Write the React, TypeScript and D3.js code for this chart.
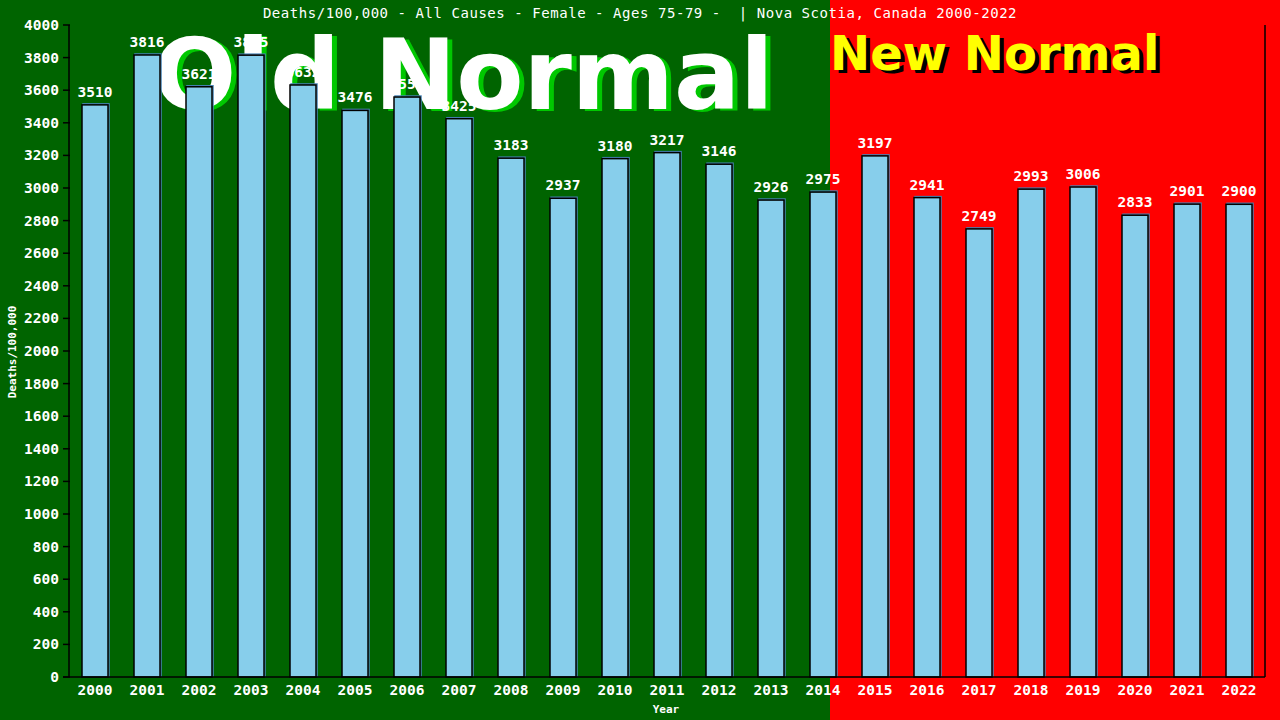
import React from 'react';
import * as d3 from 'd3';

const years = [
  '2000', '2001', '2002', '2003', '2004', '2005', '2006', '2007', '2008', '2009', '2010', '2011',
  '2012', '2013', '2014', '2015', '2016', '2017', '2018', '2019', '2020', '2021', '2022',
];
const deaths = [
  3510, 3816, 3621, 3815, 3632, 3476, 3558, 3425, 3183, 2937, 3180, 3217,
  3146, 2926, 2975, 3197, 2941, 2749, 2993, 3006, 2833, 2901, 2900,
];
const yTicks = d3.range(0, 4001, 200);

const title = 'Deaths/100,000 - All Causes - Female - Ages 75-79 -  | Nova Scotia, Canada 2000-2022';

const W = 1280;
const H = 720;
const margin = { top: 25, right: 15, bottom: 43, left: 69 };
const splitX = 830;

const mono = '"DejaVu Sans Mono", monospace';
const sans = '"DejaVu Sans", sans-serif';

const App = () => {
  const x = d3
    .scaleBand<string>()
    .domain(years)
    .range([margin.left, W - margin.right])
    .paddingInner(0.5)
    .paddingOuter(0.25);

  const y = d3
    .scaleLinear()
    .domain([0, 4000])
    .range([H - margin.bottom, margin.top]);

  const bw = x.bandwidth();
  const y0 = y(0);

  return (
    <svg
      width={W}
      height={H}
      style={{ display: 'block', position: 'absolute', left: 0, top: 0 }}
    >
      {/* backgrounds */}
      <rect x={0} y={0} width={splitX} height={H} fill="#006400" />
      <rect x={splitX} y={0} width={W - splitX} height={H} fill="#ff0000" />

      {/* big labels behind the bars */}
      <g fontFamily={sans} fontWeight="bold">
        <text x={158} y={111} fontSize={98} fill="#00c800">Old Normal</text>
        <text x={153} y={109} fontSize={98} fill="#ffffff">Old Normal</text>
        <text x={834} y={73} fontSize={48} fill="#000000">New Normal</text>
        <text x={830} y={70} fontSize={48} fill="#ffff00">New Normal</text>
      </g>

      {/* title */}
      <text
        x={640}
        y={18}
        textAnchor="middle"
        fontFamily={mono}
        fontSize={14}
        letterSpacing={0.55}
        fill="#ffffff"
        style={{ whiteSpace: 'pre' }}
      >
        {title}
      </text>

      {/* bars */}
      {years.map((yr, i) => {
        const bx = x(yr)!;
        const by = y(deaths[i]);
        return (
          <g key={yr}>
            <rect
              x={bx + 1}
              y={by - 1}
              width={bw}
              height={y0 - by}
              fill="none"
              stroke="#4682b4"
              strokeWidth={1.5}
            />
            <rect
              x={bx}
              y={by}
              width={bw}
              height={y0 - by}
              fill="#87ceeb"
              stroke="#000000"
              strokeWidth={1.5}
            />
            <text
              x={bx + bw / 2}
              y={by - 8}
              textAnchor="middle"
              fontFamily={mono}
              fontWeight="bold"
              fontSize={14.5}
              fill="#ffffff"
            >
              {deaths[i]}
            </text>
          </g>
        );
      })}

      {/* axes */}
      <line x1={margin.left} x2={margin.left} y1={margin.top} y2={y0} stroke="#000" strokeWidth={1.5} />
      <line x1={W - margin.right} x2={W - margin.right} y1={margin.top} y2={y0} stroke="#000" strokeWidth={1.5} />
      <line x1={margin.left - 6} x2={W - margin.right} y1={y0} y2={y0} stroke="#000" strokeWidth={1.5} />
      {yTicks.map((t) => (
        <g key={t}>
          <line x1={margin.left - 6} x2={margin.left + 1} y1={y(t)} y2={y(t)} stroke="#000" strokeWidth={1.5} />
          <text
            x={margin.left - 10}
            y={y(t)}
            dy="0.35em"
            textAnchor="end"
            fontFamily={mono}
            fontWeight="bold"
            fontSize={14.5}
            fill="#ffffff"
          >
            {t}
          </text>
        </g>
      ))}

      {years.map((yr) => (
        <text
          key={yr}
          x={x(yr)! + bw / 2}
          y={695}
          textAnchor="middle"
          fontFamily={mono}
          fontWeight="bold"
          fontSize={14.5}
          fill="#ffffff"
        >
          {yr}
        </text>
      ))}

      {/* axis titles */}
      <text
        x={666}
        y={713}
        textAnchor="middle"
        fontFamily={mono}
        fontWeight="bold"
        fontSize={11}
        fill="#ffffff"
      >
        Year
      </text>
      <text
        transform={`translate(16, 352) rotate(-90)`}
        textAnchor="middle"
        fontFamily={mono}
        fontWeight="bold"
        fontSize={11}
        fill="#ffffff"
      >
        Deaths/100,000
      </text>
    </svg>
  );
};

export default App;
